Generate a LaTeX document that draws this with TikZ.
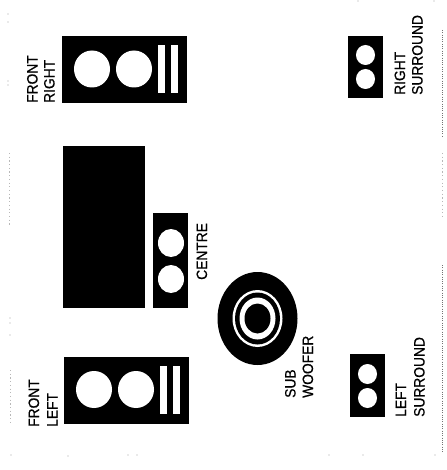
\documentclass[tikz,border=0pt]{standalone}
\usepackage{fontspec}
\setmainfont{Liberation Sans}
\newfontfamily\lblfont[FakeStretch=0.92,FakeBold=0.6]{Liberation Sans}
\tikzset{
  px/.style={x=1pt,y=-1pt},
  blk/.style={fill=black,draw=none},
  wht/.style={fill=white,draw=none},
  lbl/.style={rotate=90,anchor=base west,inner sep=0pt,font=\lblfont\fontsize{15}{15}\selectfont,text=black},
  rule/.style={draw=black!55,line width=0.6pt,dash pattern=on 1pt off 1.3pt},
  rulel/.style={draw=black!28,line width=0.7pt,dash pattern=on 1.2pt off 2.5pt},
  speck/.style={fill=black!35,draw=none}
}
\begin{document}
\begin{tikzpicture}[px]
\useasboundingbox (0,0) rectangle (446,470);
% front right
\fill[blk] (62,36) rectangle (187,103);
\fill[wht] (92,69) ellipse (18 and 18.5);
\fill[wht] (134,69) ellipse (18 and 18.5);
\fill[wht] (158,45) rectangle (165,93);
\fill[wht] (171,45) rectangle (178,93);
% screen
\fill[blk] (63,146) rectangle (145,308);
% centre
\fill[blk] (153,213) rectangle (188,308);
\fill[wht] (171,243) ellipse (13 and 14);
\fill[wht] (171,279) ellipse (13 and 14);
% front left
\fill[blk] (64,357) rectangle (189,424);
\fill[wht] (94,389.5) ellipse (18 and 18.5);
\fill[wht] (136,389.5) ellipse (18 and 18.5);
\fill[wht] (160,366) rectangle (167,414);
\fill[wht] (173,366) rectangle (180,414);
% right surround
\fill[blk] (348,36) rectangle (383,98);
\fill[wht] (365.5,55) ellipse (9.5 and 10);
\fill[wht] (365.5,79) ellipse (9.5 and 10);
% left surround
\fill[blk] (350,354) rectangle (385,417);
\fill[wht] (367.5,374) ellipse (9.5 and 10);
\fill[wht] (367.5,398) ellipse (9.5 and 10);
% subwoofer
\fill[blk] (257.5,318.5) ellipse (40 and 46.5);
\fill[wht] (257.5,318.5) ellipse (25 and 28.5);
\fill[blk] (257.5,318.5) ellipse (22.5 and 26);
\fill[wht] (257.5,318.5) ellipse (18 and 21);
\fill[blk] (257.5,318.5) ellipse (13 and 15);
% labels
\node[lbl] (fr1) at (37.5,103) {FRONT};
\node[lbl] (fr2) at (54.5,103) {RIGHT};
\node[lbl] (fl1) at (39,427) {FRONT};
\node[lbl] (fl2) at (57.5,427) {LEFT};
\node[lbl] (ce) at (207,280) {CENTRE};
\node[lbl] (su1) at (295.5,398) {SUB};
\node[lbl] (su2) at (313,398) {WOOFER};
\node[lbl] (rs1) at (405,95) {RIGHT};
\node[lbl] (rs2) at (422.5,95) {SURROUND};
\node[lbl] (ls1) at (406,417) {LEFT};
\node[lbl] (ls2) at (424.5,417) {SURROUND};
% scan edge marks
\draw[rule] (442.5,30) -- (442.5,137);
\draw[rulel] (442.5,153) -- (442.5,217);
\draw[rule] (442.5,265) -- (442.5,453);
\draw[rulel] (9.5,153) -- (9.5,226);
\draw[rulel] (10.5,370) -- (10.5,423);
\foreach \p in {(8,14),(8,22),(8,81),(8,85),(10,318),(10,323),(10,335),(11,455),(68,456),(128,455),(137,455),(329,455),(363,455),(435,455),(358,1),(434,1)}
  \fill[speck] \p circle (0.6);
\end{tikzpicture}
\end{document}
